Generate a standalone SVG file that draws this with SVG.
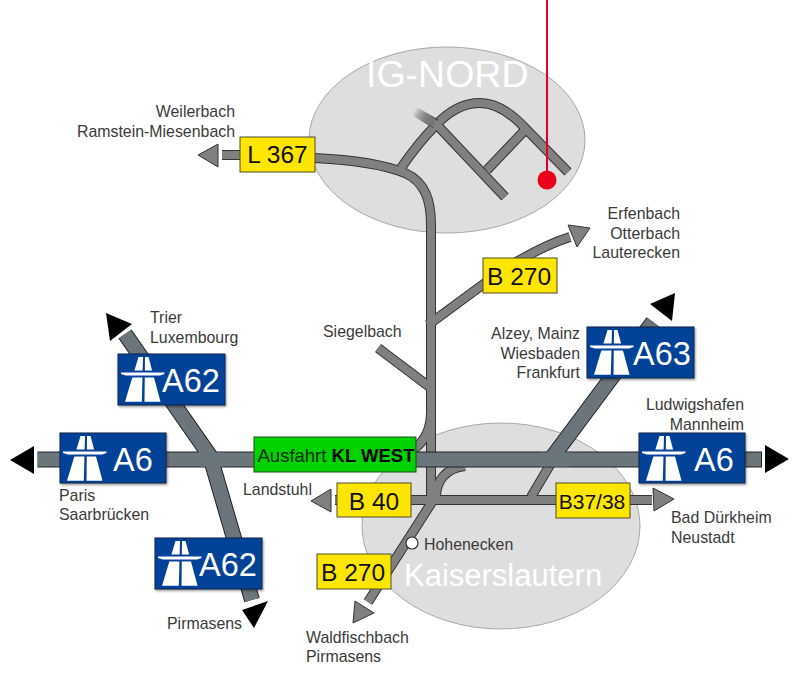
<svg xmlns="http://www.w3.org/2000/svg" xmlns:xlink="http://www.w3.org/1999/xlink" width="800" height="691" viewBox="0 0 800 691">
<style>
text{font-family:"Liberation Sans",Arial,sans-serif;}
.lb{font-size:15.9px;fill:#3a3a3a;}
.e{text-anchor:end;}
.sh{filter:url(#sh);}
.blue{fill:#064298;stroke:#0b2348;stroke-width:1;}
.yel{fill:#ffe600;stroke:#4a4a30;stroke-width:1;}
.bt{font-size:32.5px;fill:#fff;}
.yt{font-size:24.5px;fill:#111;text-anchor:middle;}
.city{fill:#fff;}
.zone{fill:#dedede;stroke:#a8a8a8;stroke-width:1;}
.o,.i,.ao,.ai{fill:none;}
.o{stroke:#333;stroke-width:10;}
.i{stroke:#808080;stroke-width:8;}
.ao{stroke:#222;stroke-width:16;}
.ai{stroke:#6a757c;stroke-width:14;}
.ag{fill:#808080;stroke:#333;stroke-width:1;}
.ak{fill:#000;}
</style>
<defs>
<filter id="sh" x="-10%" y="-10%" width="125%" height="130%"><feDropShadow dx="1" dy="1.5" stdDeviation="1" flood-color="#000" flood-opacity="0.4"/></filter>
<linearGradient id="fade1" gradientUnits="userSpaceOnUse" x1="414" y1="111" x2="436" y2="124"><stop offset="0" stop-color="#333" stop-opacity="0"/><stop offset="1" stop-color="#333"/></linearGradient>
<linearGradient id="fade2" gradientUnits="userSpaceOnUse" x1="414" y1="111" x2="436" y2="124"><stop offset="0" stop-color="#808080" stop-opacity="0"/><stop offset="1" stop-color="#808080"/></linearGradient>
<g id="ab">
<polygon points="20.500,3 25,3 23.800,47.700 7,47.700" fill="#fff"/>
<polygon points="27,3 30.500,3 42.500,47.700 26.500,47.700" fill="#fff"/>
<rect x="3" y="16.500" width="44" height="7" fill="#064298"/>
<polygon points="3,18.500 46.500,18.500 46.500,20 42,21.500 8,21.500 3,20" fill="#fff"/>
</g>
</defs>
<rect width="800" height="691" fill="#fff"/>
<g id="zones">
<ellipse id="zone-ig-nord" class="zone" cx="447" cy="140" rx="138" ry="93"/>
<ellipse id="zone-kaiserslautern" class="zone" cx="501" cy="526" rx="139" ry="103"/>
<text x="366" y="87" font-size="37.500" class="city">IG-NORD</text>
<text x="404" y="586" font-size="31" class="city">Kaiserslautern</text>
</g>
<g id="connectors">
<g class="o">
<path d="M222 155H240"/>
<path d="M315 158C355 160 385 165 405 173C425 182 431 200 431 225V503"/>
<path d="M401 168C412 152 425 136 436 125C450 110 465 103 480 103C497 103 512 114 525 128L568 172"/>
<path d="M437 125L505 197"/>
<path d="M487 170L525 130"/>
<path d="M428 325L500 272C525 256 545 245 570 237"/>
<path d="M378 348L431 388"/>
<path d="M431 412C431 428 426 440 414 449"/>
<path d="M436 497C436 482 445 468 465 466"/>
<path d="M335 500H652"/>
<path d="M432 502L368 602"/>
<path d="M550 465L531 497"/>
</g>
<g class="i">
<path d="M222 155H240"/>
<path d="M315 158C355 160 385 165 405 173C425 182 431 200 431 225V503"/>
<path d="M401 168C412 152 425 136 436 125C450 110 465 103 480 103C497 103 512 114 525 128L568 172"/>
<path d="M437 125L505 197"/>
<path d="M487 170L525 130"/>
<path d="M428 325L500 272C525 256 545 245 570 237"/>
<path d="M378 348L431 388"/>
<path d="M431 412C431 428 426 440 414 449"/>
<path d="M436 497C436 482 445 468 465 466"/>
<path d="M335 500H652"/>
<path d="M432 502L368 602"/>
<path d="M550 465L531 497"/>
</g>
<path d="M414 111L436 124" stroke="url(#fade1)" stroke-width="10" fill="none"/>
<path d="M414 111L437 125" stroke="url(#fade2)" stroke-width="8" fill="none"/>
<g class="ao">
<path d="M37.500 459.500H762"/>
<path d="M125 334L210 456L252 600"/>
<path d="M551 459L653 322"/>
</g>
<g class="ai">
<path d="M38 459.500H761"/>
<path d="M125 334L210 456L252 600"/>
<path d="M551 459L653 322"/>
<path d="M540 459.500H570"/>
<path d="M200 459.500H225"/>
</g>
<polygon class="ak" points="10,460 34,446 34,474"/>
<polygon class="ak" points="765,445 789,459 765,473"/>
<polygon class="ak" points="106,313 132,324 110,341"/>
<polygon class="ak" points="242,610 268,601 254,628"/>
<polygon class="ak" points="650,304 675,293 672,321"/>
<polygon class="ag" points="198,155 218,144 218,167"/>
<polygon class="ag" points="311,501 331,489 331,512"/>
<polygon class="ag" points="653,488 674,499 654,511"/>
<polygon class="ag" points="355,601 374,613 353,623"/>
<polygon class="ag" points="568,225 590,228 577,247"/>
<line x1="547" y1="0" x2="547" y2="180" stroke="#e8001c" stroke-width="2"/>
</g>
<g id="node-a62-north"><rect class="blue sh" x="118" y="354" width="107" height="51"/><use xlink:href="#ab" x="118" y="354"/><text class="bt" x="162" y="392">A62</text></g>
<g id="node-a6-west"><rect class="blue sh" x="60" y="433" width="106" height="50"/><use xlink:href="#ab" x="60" y="433"/><text class="bt" x="113" y="471">A6</text></g>
<g id="node-a62-south"><rect class="blue sh" x="155" y="538" width="107" height="51"/><use xlink:href="#ab" x="155" y="538"/><text class="bt" x="199" y="576">A62</text></g>
<g id="node-a63"><rect class="blue sh" x="587" y="327" width="107" height="51"/><use xlink:href="#ab" x="587" y="327"/><text class="bt" x="633" y="365">A63</text></g>
<g id="node-a6-east"><rect class="blue sh" x="639" y="433" width="106" height="50"/><use xlink:href="#ab" x="639" y="433"/><text class="bt" x="694" y="471">A6</text></g>
<g id="node-ausfahrt"><rect x="254" y="437" width="162" height="35" fill="#00d300" stroke="#1c4a1c"/><text x="257.500" y="462" font-size="18.500" fill="#0c2a0c">Ausfahrt <tspan font-weight="bold" fill="#000">KL WEST</tspan></text></g>
<g id="node-l367"><rect class="yel" x="240" y="137" width="75" height="35"/><text class="yt" x="277.500" y="163">L 367</text></g>
<g id="node-b270-north"><rect class="yel" x="483" y="258" width="74" height="35"/><text class="yt" x="519" y="285">B 270</text></g>
<g id="node-b40"><rect class="yel" x="337" y="483" width="74" height="34"/><text class="yt" x="374" y="510">B 40</text></g>
<g id="node-b3738"><rect class="yel" x="556" y="483" width="74" height="35"/><text x="592" y="509" text-anchor="middle" font-size="21" fill="#111">B37/38</text></g>
<g id="node-b270-south"><rect class="yel" x="317" y="554" width="74" height="35"/><text class="yt" x="353" y="581">B 270</text></g>
<g id="node-hohenecken"><circle cx="412" cy="543" r="6" fill="#fff" stroke="#333" stroke-width="1.200"/><text class="lb" x="424" y="550">Hohenecken</text></g>
<g id="node-target"><circle cx="547" cy="180" r="9.500" fill="#e8001c"/></g>
<g id="labels">
<text class="lb e" x="235" y="117">Weilerbach</text>
<text class="lb e" x="235" y="137">Ramstein-Miesenbach</text>
<text class="lb e" x="680" y="219">Erfenbach</text>
<text class="lb e" x="680" y="239">Otterbach</text>
<text class="lb e" x="680" y="258">Lauterecken</text>
<text class="lb" x="150" y="323">Trier</text>
<text class="lb" x="150" y="343">Luxembourg</text>
<text class="lb" x="323" y="337">Siegelbach</text>
<text class="lb e" x="580" y="339">Alzey, Mainz</text>
<text class="lb e" x="580" y="359">Wiesbaden</text>
<text class="lb e" x="580" y="378">Frankfurt</text>
<text class="lb e" x="744" y="410">Ludwigshafen</text>
<text class="lb e" x="744" y="430">Mannheim</text>
<text class="lb" x="59" y="501">Paris</text>
<text class="lb" x="59" y="520">Saarbrücken</text>
<text class="lb" x="243" y="495">Landstuhl</text>
<text class="lb" x="671" y="523">Bad Dürkheim</text>
<text class="lb" x="671" y="543">Neustadt</text>
<text class="lb" x="167" y="629">Pirmasens</text>
<text class="lb" x="306" y="643">Waldfischbach</text>
<text class="lb" x="306" y="662">Pirmasens</text>
</g>
</svg>
